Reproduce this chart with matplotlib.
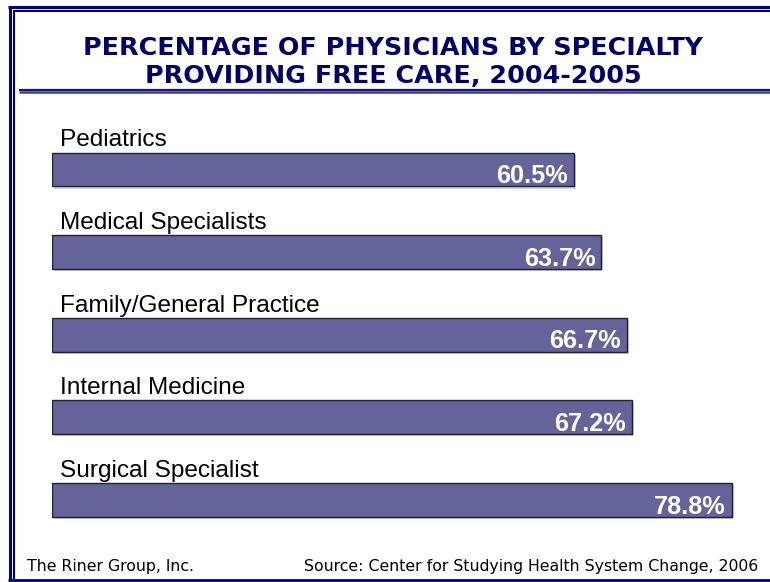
import matplotlib.pyplot as plt
from matplotlib.lines import Line2D
import matplotlib.patheffects as pe

# data
specialties = ["Pediatrics", "Medical Specialists", "Family/General Practice",
               "Internal Medicine", "Surgical Specialist"]
pct = [60.5, 63.7, 66.7, 67.2, 78.8]

title_lines = ["PERCENTAGE OF PHYSICIANS BY SPECIALTY",
               "PROVIDING FREE CARE, 2004-2005"]
left_note = "The Riner Group, Inc."
source_note = "Source: Center for Studying Health System Change, 2006"

W, H = 770, 582
navy = "#000066"
bar_col = "#64649A"

fig = plt.figure(figsize=(W / 100, H / 100), dpi=100)
fig.patch.set_facecolor("white")

def fx(x):
    return x / W

def fy(y):
    return 1 - y / H

def hline(y, x0, x1, lw, col):
    fig.add_artist(Line2D([fx(x0), fx(x1)], [fy(y), fy(y)], lw=lw, color=col,
                          transform=fig.transFigure, solid_capstyle="butt"))

def vline(x, y0, y1, lw, col):
    fig.add_artist(Line2D([fx(x), fx(x)], [fy(y0), fy(y1)], lw=lw, color=col,
                          transform=fig.transFigure, solid_capstyle="butt"))

# double frame
border = "#000080"
hline(6.5, 8, W, 2.2, border)
hline(11.2, 13, W, 1.5, border)
vline(9.5, 5.5, 581, 2.2, border)
vline(14, 10.5, 579, 1.5, border)
hline(579.5, 8, W, 2.0, border)

# title, one text per line, and the rule under it
for txt, base in zip(title_lines, [55, 83]):
    fig.text(fx(393), fy(base), txt, ha="center", va="baseline", color=navy,
             fontsize=18.3, fontweight="bold", family="DejaVu Sans")
hline(90, 19, W, 1.6, "#1a1a70")
hline(92.2, 19, W, 1.8, "#3c3caa")

# bars
ax = fig.add_axes([fx(52), fy(169.5 + 82.6 * 4.5), 690 / W, 82.6 * 5 / H])
y = list(range(len(pct)))
bars = ax.barh(y, pct, height=0.41, color=bar_col, edgecolor="#202038",
               linewidth=1.0)
for b in bars:
    b.set_path_effects([pe.SimplePatchShadow(offset=(1.5, -1.5), alpha=0.35,
                                             shadow_rgbFace="#888888"),
                        pe.Normal()])
ax.set_xlim(0, 80)
ax.set_ylim(4.5, -0.5)
ax.axis("off")

for i, (name, v) in enumerate(zip(specialties, pct)):
    ax.text(0.93, i - 0.28, name, ha="left", va="baseline", fontsize=17.6,
            family="Liberation Sans", color="black")
    ax.text(v - 0.7, i + 0.165, f"{v:.1f}%", ha="right", va="baseline",
            fontsize=18.2, fontweight="bold", family="Liberation Sans",
            color="white")

# footer
fig.text(fx(27), fy(571), left_note, ha="left", va="baseline", fontsize=11.3,
         family="DejaVu Sans", color="black")
fig.text(fx(758), fy(571), source_note, ha="right", va="baseline",
         fontsize=11.3, family="DejaVu Sans", color="black")

fig.savefig("out.png", dpi=100, facecolor="white")
